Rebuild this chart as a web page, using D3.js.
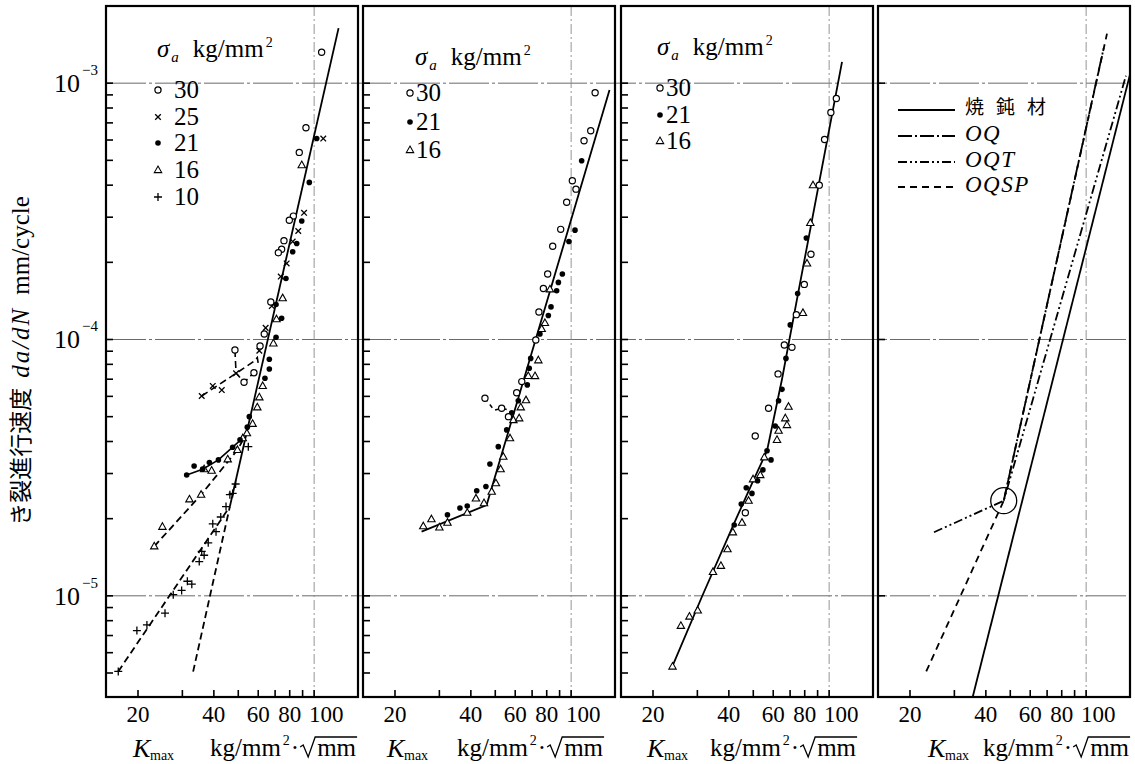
<!DOCTYPE html>
<html><head><meta charset="utf-8">
<script src="https://cdn.jsdelivr.net/npm/d3@7"></script>
<style>
body{margin:0;background:#fff;}
svg{display:block;}
</style></head><body>
<svg id="chart" width="1135" height="764"></svg>
<script>
// ---------------- DATA ----------------
const xTickValues = [20,30,40,50,60,70,80,90,100];
const xTickLabels = [20,40,60,80,100];
const yMajorExponents = [-3,-4,-5];
const sigmaLevels1 = ["30","25","21","16","10"];
const sigmaMarkers1 = ["open","x","dot","tri","plus"];
const sigmaLevels23 = ["30","21","16"];
const sigmaMarkers23 = ["open","dot","tri"];
const materials = ["焼鈍材","OQ","OQT","OQSP"];

// Panel 1  [Kmax, da/dN]
const p1_s30 = [[107.1,1.32e-3],[92.8,6.7e-4],[87.3,5.37e-4],[82.7,3.03e-4],[79.7,2.92e-4],[75.9,2.43e-4],[74.3,2.25e-4],[72.1,2.18e-4],[67.3,1.40e-4],[63.4,1.05e-4],[61.0,9.43e-5],[48.5,9.1e-5],[57.7,7.42e-5],[52.7,6.81e-5]];
const p1_s25 = [[108.7,6.08e-4],[91.2,3.12e-4],[86.5,2.65e-4],[82.2,2.41e-4],[77.8,1.98e-4],[73.7,1.76e-4],[67.9,1.35e-4],[64.2,1.11e-4],[60.6,9.04e-5],[49.0,7.38e-5],[39.6,6.59e-5],[43.0,6.35e-5],[35.8,6.02e-5]];
const p1_s21 = [[102.4,6.08e-4],[95.7,4.1e-4],[89.3,2.9e-4],[85.3,2.37e-4],[82.2,2.2e-4],[77.3,1.73e-4],[70.6,1.37e-4],[74.3,1.21e-4],[70.6,1.02e-4],[66.4,8.37e-5],[66.4,7.67e-5],[63.8,7.06e-5],[55.3,5.0e-5],[54.3,4.55e-5],[50.8,4.06e-5],[47.5,3.8e-5],[41.7,3.39e-5],[38.4,3.31e-5],[36.1,3.12e-5],[33.4,3.21e-5],[31.2,2.96e-5]];
const p1_s16 = [[89.3,4.79e-4],[75.0,1.45e-4],[70.9,1.2e-4],[68.9,9.66e-5],[62.5,6.59e-5],[60.6,5.95e-5],[59.5,5.44e-5],[57.0,4.69e-5],[54.1,4.31e-5],[52.1,4.12e-5],[49.6,3.71e-5],[45.4,3.41e-5],[39.2,3.08e-5],[36.6,3.12e-5],[35.6,2.48e-5],[32.0,2.38e-5],[25.0,1.86e-5],[23.2,1.56e-5]];
const p1_s10 = [[16.7,5.07e-6],[19.8,7.32e-6],[21.7,7.7e-6],[25.6,8.56e-6],[27.6,1.01e-5],[29.8,1.05e-5],[31.4,1.14e-5],[32.7,1.11e-5],[35.0,1.36e-5],[35.8,1.49e-5],[36.6,1.44e-5],[38.0,1.61e-5],[39.6,1.91e-5],[40.8,1.78e-5],[42.6,2.03e-5],[44.7,2.23e-5],[46.3,2.48e-5],[47.5,2.51e-5],[48.8,2.73e-5],[54.8,3.82e-5]];
const p1_mainSolid = [[46.3,2.23e-5],[125,1.64e-3]];
const p1_mainDashed = [[33.1,5.06e-6],[46.3,2.23e-5]];
const p1_branch10 = [[16.7,5.07e-6],[46.3,2.23e-5]];
const p1_branch16 = [[23.2,1.56e-5],[35.6,2.48e-5],[49.6,3.71e-5],[54.1,4.31e-5]];
const p1_branch21 = [[31.2,2.96e-5],[36.1,3.12e-5],[41.7,3.39e-5],[47.5,3.8e-5],[52.1,4.12e-5]];
const p1_branch25 = [[35.8,6.02e-5],[49.0,7.38e-5],[57.4,8.19e-5],[59.5,8.5e-5],[60.2,7.9e-5]];
const p1_branch30 = [[48.5,9.1e-5],[49.0,7.4e-5],[52.7,6.81e-5],[57.7,7.42e-5]];

// Panel 2
const p2_s30 = [[124.5,9.17e-4],[119.6,6.52e-4],[112.5,5.96e-4],[101.1,4.16e-4],[104.5,3.86e-4],[96.0,3.43e-4],[90.9,2.69e-4],[84.5,2.31e-4],[80.7,1.8e-4],[77.6,1.58e-4],[74.5,1.28e-4],[72.4,9.95e-5],[63.7,6.85e-5],[60.8,6.2e-5],[45.5,5.9e-5],[53.0,5.39e-5],[56.4,5.0e-5]];
const p2_s21 = [[110.1,4.98e-4],[103.6,2.67e-4],[98.0,2.41e-4],[92.3,1.8e-4],[89.0,1.67e-4],[87.6,1.55e-4],[83.2,1.34e-4],[81.2,1.24e-4],[75.2,1.05e-4],[69.1,8.44e-5],[68.2,7.72e-5],[67.0,6.65e-5],[61.7,5.77e-5],[58.1,5.18e-5],[55.5,4.44e-5],[51.4,3.82e-5],[47.6,3.27e-5],[45.9,2.67e-5],[42.2,2.57e-5],[38.7,2.24e-5],[36.2,2.2e-5],[32.3,2.07e-5]];
const p2_s16 = [[82.4,1.57e-4],[78.7,1.16e-4],[76.4,1.1e-4],[74.1,8.3e-5],[67.6,7.21e-5],[71.9,7.2e-5],[66.2,5.8e-5],[63.1,5.44e-5],[59.0,4.85e-5],[62.2,4.93e-5],[57.2,4.12e-5],[53.8,3.49e-5],[52.5,3.12e-5],[50.3,2.75e-5],[48.4,2.55e-5],[41.9,2.4e-5],[45.1,2.3e-5],[38.7,2.11e-5],[32.3,1.93e-5],[30.0,1.85e-5],[27.9,1.99e-5],[25.9,1.87e-5]];
const p2_main = [[25.5,1.78e-5],[46.2,2.26e-5],[142,9.4e-4]];
const p2_branch30 = [[45.5,5.9e-5],[49.5,5.3e-5],[53.0,5.39e-5],[57.0,5.3e-5]];

// Panel 3
const p3_s30 = [[106.8,8.71e-4],[101.6,7.68e-4],[95.9,6.03e-4],[91.4,4.0e-4],[84.7,2.15e-4],[79.7,1.64e-4],[74.1,1.25e-4],[66.4,9.52e-5],[71.2,9.32e-5],[62.7,7.34e-5],[57.5,5.39e-5],[50.9,4.2e-5],[46.5,2.11e-5]];
const p3_s21 = [[81.2,2.49e-4],[75.0,1.51e-4],[70.1,1.14e-4],[67.4,8.44e-5],[65.0,6.39e-5],[63.0,5.77e-5],[61.1,4.6e-5],[56.7,3.68e-5],[58.8,3.39e-5],[54.6,3.1e-5],[52.0,2.81e-5],[46.9,2.64e-5],[49.4,2.51e-5],[44.8,2.28e-5],[42.0,1.89e-5]];
const p3_s16 = [[86.3,4.0e-4],[84.2,2.85e-4],[81.7,1.98e-4],[78.7,1.27e-4],[69.0,5.47e-5],[67.0,4.93e-5],[68.0,4.64e-5],[63.0,4.41e-5],[62.1,4.06e-5],[55.3,3.47e-5],[53.3,2.96e-5],[49.9,2.85e-5],[47.9,2.35e-5],[45.1,1.93e-5],[41.5,1.77e-5],[39.5,1.52e-5],[37.2,1.31e-5],[34.6,1.24e-5],[30.1,8.77e-6],[27.9,8.3e-6],[25.8,7.64e-6],[23.9,5.3e-6]];
const p3_main = [[23.8,5.27e-6],[31.3,9.94e-6],[42.0,1.92e-5],[50.1,2.83e-5],[56.7,3.68e-5],[65.0,7.0e-5],[74.5,1.43e-4],[112.5,1.21e-3]];

// Panel 4
const p4_anneal = [[35.5,4.05e-6],[150.6,1.12e-3]];
const p4_OQ = [[47.1,2.35e-5],[117.4,1.37e-3]];
const p4_OQT = [[24.9,1.77e-5],[47.1,2.35e-5],[143.9,1.07e-3]];
const p4_OQSP = [[23.2,5.07e-6],[47.1,2.35e-5],[121,1.56e-3]];
const p4_knee = [[47.1,2.35e-5]];

// ---------------- LAYOUT ----------------
const SERIF = '"Liberation Serif","DejaVu Serif",serif';
const CJK = '"Noto Sans CJK JP","Noto Sans CJK SC",sans-serif';
const panelLefts = [106, 363, 621, 878];
const PW = 252, PT = 6, PB = 697;
const svg = d3.select("#chart");
svg.append("rect").attr("width",1135).attr("height",764).attr("fill","#fff");

const yScale = d3.scaleLog().domain([4.03e-6, 2.0e-3]).range([PB, PT]);
const xScales = panelLefts.map(L => d3.scaleLog().domain([14.93, 149.3]).range([L, L + PW]));

const defs = svg.append("defs");
panelLefts.forEach((L,i)=>{
  defs.append("clipPath").attr("id","clip"+i).append("rect")
    .attr("x",L).attr("y",PT).attr("width",PW).attr("height",PB-PT);
});

// horizontal grid lines (continuous across the figure)
yMajorExponents.forEach(e=>{
  const yy = yScale(Math.pow(10,e));
  svg.append("line").attr("x1",panelLefts[0]).attr("x2",panelLefts[3]+PW)
    .attr("y1",yy).attr("y2",yy).attr("stroke","#6a6a6a").attr("stroke-width",1)
    .attr("stroke-dasharray","40,3,3,3");
});
// vertical line at K=100
xScales.forEach((x,i)=>{
  svg.append("line").attr("x1",x(100)).attr("x2",x(100)).attr("y1",PT).attr("y2",PB)
    .attr("stroke","#8a8a8a").attr("stroke-width",0.9).attr("stroke-dasharray","10,3,2,3");
});

// ticks
const yAllTicks = yScale.ticks();
xScales.forEach((x,i)=>{
  const L = panelLefts[i];
  const g = svg.append("g");
  const yt = i < 3 ? yAllTicks : yMajorExponents.map(e=>Math.pow(10,e));
  yt.forEach(v=>{
    const yy = yScale(v);
    if (yy < PT+2 || yy > PB-2) return;
    g.append("line").attr("x1",L).attr("x2",L+7).attr("y1",yy).attr("y2",yy)
      .attr("stroke","#000").attr("stroke-width",1.6);
  });
  xTickValues.forEach(v=>{
    g.append("line").attr("x1",x(v)).attr("x2",x(v)).attr("y1",PB).attr("y2",PB-7)
      .attr("stroke","#000").attr("stroke-width",1.6);
  });
  xTickLabels.forEach(v=>{
    const s = String(v);
    g.append("text").attr("x",x(v) + (s.length>2 ? 12 : 0)).attr("y",722)
      .attr("text-anchor","middle").attr("font-family",SERIF).attr("font-size",23).text(s);
  });
});

// y tick labels (panel 1)
yMajorExponents.forEach(e=>{
  const yy = yScale(Math.pow(10,e));
  const t = svg.append("text").attr("x",54).attr("y",yy+9).attr("font-family",SERIF).attr("font-size",26);
  t.append("tspan").text("10");
  t.append("tspan").attr("font-size",15).attr("dy",-17).attr("dx",2).text("−" + Math.abs(e));
});

// lines
function drawLine(i, data, dash, w){
  svg.append("path").datum(data).attr("clip-path",`url(#clip${i})`)
    .attr("d", d3.line().x(d=>xScales[i](d[0])).y(d=>yScale(d[1])))
    .attr("fill","none").attr("stroke","#000").attr("stroke-width",w||1.8)
    .attr("stroke-dasharray",dash||null);
}
const DASH = "7,4";
drawLine(0,p1_mainSolid);
drawLine(0,p1_mainDashed,DASH);
drawLine(0,p1_branch10,DASH);
drawLine(0,p1_branch16,DASH);
drawLine(0,p1_branch21,null,1.6);
drawLine(0,p1_branch25,DASH,1.6);
drawLine(0,p1_branch30,DASH,1.6);
drawLine(1,p2_main);
drawLine(1,p2_branch30,"4,4",1.5);
drawLine(2,p3_main);
const dashOQ = "14,3,2,3", dashOQT = "9,3,2,3,2,3", dashOQSP = "7,5";
drawLine(3,p4_anneal,null,1.8);
drawLine(3,p4_OQ,dashOQ,1.8);
drawLine(3,p4_OQT,dashOQT,1.8);
drawLine(3,p4_OQSP,dashOQSP,1.8);
p4_knee.forEach(d=>{
  svg.append("circle").attr("cx",xScales[3](d[0])).attr("cy",yScale(d[1])).attr("r",13)
    .attr("fill","none").attr("stroke","#000").attr("stroke-width",1.3);
});

// markers
function marker(type, cx, cy){
  const s = svg;
  if (type==="open") s.append("circle").attr("cx",cx).attr("cy",cy).attr("r",3.1)
      .attr("fill","#fff").attr("stroke","#000").attr("stroke-width",1.2);
  else if (type==="dot") s.append("circle").attr("cx",cx).attr("cy",cy).attr("r",2.8).attr("fill","#000");
  else if (type==="tri") s.append("path")
      .attr("d",`M${cx},${cy-4}L${cx+3.7},${cy+2.6}L${cx-3.7},${cy+2.6}Z`)
      .attr("fill","#fff").attr("stroke","#000").attr("stroke-width",1.1);
  else if (type==="x") s.append("path")
      .attr("d",`M${cx-2.8},${cy-2.8}L${cx+2.8},${cy+2.8}M${cx-2.8},${cy+2.8}L${cx+2.8},${cy-2.8}`)
      .attr("stroke","#000").attr("stroke-width",1.3);
  else if (type==="plus") s.append("path")
      .attr("d",`M${cx-4},${cy}H${cx+4}M${cx},${cy-4}V${cy+4}`)
      .attr("stroke","#000").attr("stroke-width",1.3);
}
function drawPoints(i, data, type){
  data.forEach(d=>marker(type, xScales[i](d[0]), yScale(d[1])));
}
drawPoints(0,p1_s10,"plus");
drawPoints(0,p1_s16,"tri");
drawPoints(0,p1_s21,"dot");
drawPoints(0,p1_s25,"x");
drawPoints(0,p1_s30,"open");
drawPoints(1,p2_s16,"tri");
drawPoints(1,p2_s21,"dot");
drawPoints(1,p2_s30,"open");
drawPoints(2,p3_s16,"tri");
drawPoints(2,p3_s21,"dot");
drawPoints(2,p3_s30,"open");

// panel borders
panelLefts.forEach(L=>{
  svg.append("rect").attr("x",L).attr("y",PT).attr("width",PW).attr("height",PB-PT)
    .attr("fill","none").attr("stroke","#000").attr("stroke-width",2.2);
});

// sigma legends
function sigmaTitle(x, y){
  const t = svg.append("text").attr("x",x).attr("y",y).attr("font-family",SERIF).attr("font-size",25);
  t.append("tspan").attr("font-style","italic").text("σ");
  t.append("tspan").attr("font-style","italic").attr("font-size",15).attr("dy",5).attr("dx",2).text("a");
  t.append("tspan").attr("dy",-5).attr("dx",14).text("kg/mm");
  t.append("tspan").attr("font-size",14).attr("dy",-10).attr("dx",2).text("2");
}
function sigmaEntries(levels, types, mx, tx, rows){
  levels.forEach((lab,k)=>{
    marker(types[k], mx, rows[k]);
    svg.append("text").attr("x",tx).attr("y",rows[k]+8).attr("font-family",SERIF)
      .attr("font-size",25).text(lab);
  });
}
sigmaTitle(157,57);
sigmaEntries(sigmaLevels1, sigmaMarkers1, 158, 174, [90,117,143,170,197]);
sigmaTitle(415,65);
sigmaEntries(sigmaLevels23, sigmaMarkers23, 410, 416, [93,122,150]);
sigmaTitle(657,55);
sigmaEntries(sigmaLevels23, sigmaMarkers23, 660, 666, [88,115,141]);

// material legend (panel 4)
const matDash = [null, dashOQ, dashOQT, dashOQSP];
const matRows = [110,136,162,187];
materials.forEach((m,k)=>{
  svg.append("line").attr("x1",898).attr("x2",955).attr("y1",matRows[k]).attr("y2",matRows[k])
    .attr("stroke","#000").attr("stroke-width",1.8).attr("stroke-dasharray",matDash[k]);
  if (k===0){
    svg.append("text").attr("x",965).attr("y",matRows[k]+4).attr("font-family",CJK)
      .attr("font-size",19).attr("letter-spacing",12).text(m);
  } else {
    svg.append("text").attr("x",965).attr("y",matRows[k]+5).attr("font-family",SERIF)
      .attr("font-style","italic").attr("font-size",23).attr("letter-spacing",1.5).text(m);
  }
});

// x axis titles
const kOffsets = [27,24,26,50];
const uOffsets = [104,94,89,105];
panelLefts.forEach((L,i)=>{
  const base = 757;
  svg.append("text").attr("x",L+kOffsets[i]).attr("y",base).attr("font-family",SERIF)
    .attr("font-style","italic").attr("font-size",26).text("K");
  svg.append("text").attr("x",L+kOffsets[i]+17).attr("y",base+3).attr("font-family",SERIF)
    .attr("font-size",14).text("max");
  const ux = L+uOffsets[i];
  const t = svg.append("text").attr("x",ux).attr("y",base-1).attr("font-family",SERIF).attr("font-size",25);
  t.append("tspan").text("kg/mm");
  t.append("tspan").attr("font-size",14).attr("dy",-11).attr("dx",2).text("2");
  t.append("tspan").attr("dy",11).attr("dx",1).text("·");
  const w = t.node().getComputedTextLength();
  const xe = ux + w + 4;
  const by = base - 1;
  const mm = svg.append("text").attr("x",xe+17).attr("y",by).attr("font-family",SERIF)
    .attr("font-size",25).text("mm");
  const mw = mm.node().getComputedTextLength();
  svg.append("path")
    .attr("d",`M${xe},${by-9}L${xe+3},${by-11}L${xe+8},${by+1}L${xe+15},${by-19}H${xe+17+mw+1}`)
    .attr("fill","none").attr("stroke","#000").attr("stroke-width",1.3);
});

// y axis title
const yt = svg.append("text").attr("transform","translate(29,361) rotate(-90)")
  .attr("text-anchor","middle").attr("font-family",SERIF).attr("font-size",25);
yt.append("tspan").attr("font-family",CJK).attr("font-size",23).text("き裂進行速度");
yt.append("tspan").attr("dx",10).attr("font-style","italic").attr("letter-spacing",2).text("da/dN");
yt.append("tspan").attr("dx",12).text("mm/cycle");
</script></body></html>
